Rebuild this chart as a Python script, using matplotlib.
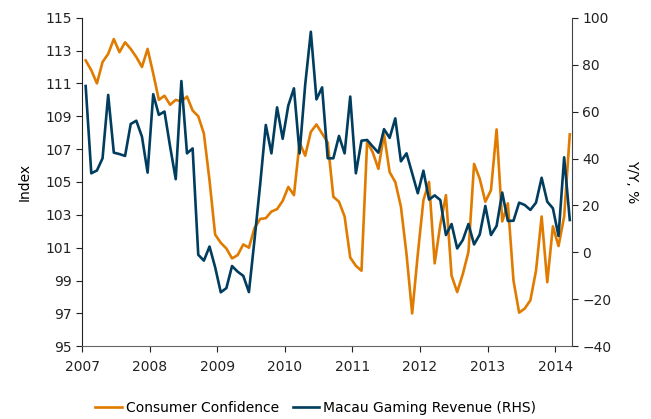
import matplotlib
matplotlib.use('Agg')
import matplotlib.pyplot as plt
import numpy as np

# monthly data, Jan 2007 - Mar 2014
start_year = 2007
consumer_conf = [
    112.4, 111.8, 111.0, 112.3, 112.8, 113.7, 112.9, 113.5, 113.1, 112.6, 112.0, 113.1,
    111.6, 110.0, 110.25, 109.7, 110.0, 109.9, 110.2, 109.35, 109.0, 107.95, 105.1, 101.8,
    101.3, 100.95, 100.35, 100.55, 101.2, 101.0, 102.2, 102.75, 102.8, 103.2, 103.35, 103.85,
    104.7, 104.2, 107.4, 106.6, 108.05, 108.5, 107.95, 107.4, 104.1, 103.8, 102.9, 100.4,
    99.9, 99.6, 107.45, 106.8, 105.8, 107.9, 105.6, 105.0, 103.5, 100.6, 97.0, 100.6,
    103.9, 105.0, 100.05, 102.4, 104.2, 99.3, 98.3, 99.4, 100.75, 106.1, 105.2, 103.8,
    104.5, 108.2, 102.6, 103.7, 99.0, 97.05, 97.3, 97.8, 99.6, 102.9, 98.9, 102.3,
    101.1, 102.9, 107.9,
]
macau_rev = [
    70.9, 33.7, 34.9, 40.1, 67.1, 42.5, 41.9, 41.1, 54.7, 56.1, 49.3, 34.0,
    67.4, 58.6, 60.0, 45.1, 31.2, 73.0, 42.2, 44.3, -1.0, -3.5, 2.5, -6.3,
    -17.0, -15.2, -5.8, -8.2, -10.0, -16.9, 5.5, 29.0, 54.3, 42.2, 61.8, 48.4,
    62.6, 69.9, 42.2, 71.5, 94.0, 65.2, 70.3, 40.1, 40.1, 49.6, 42.2, 66.4,
    33.7, 47.6, 47.9, 45.1, 42.5, 52.5, 48.8, 57.1, 38.8, 42.2, 33.7, 25.2,
    34.8, 22.5, 24.3, 22.3, 7.4, 12.1, 1.7, 5.3, 12.1, 3.4, 7.6, 19.8,
    7.4, 11.3, 25.5, 13.4, 13.5, 21.2, 20.2, 18.1, 21.2, 31.8, 21.6, 18.8,
    7.0, 40.5, 13.8,
]
years = np.arange(start_year, 2015)

x = start_year + (np.arange(len(consumer_conf)) + 0.6) / 12

orange = '#E07B00'
navy = '#003D5E'

plt.rcParams['font.family'] = 'DejaVu Sans'
plt.rcParams['font.size'] = 10

fig = plt.figure(figsize=(6.51, 4.19), dpi=100)
ax = fig.add_axes([0.1264, 0.1735, 0.7523, 0.7843])
ax2 = ax.twinx()

l1, = ax.plot(x, consumer_conf, color=orange, linewidth=1.9, label='Consumer Confidence')
l2, = ax2.plot(x, macau_rev, color=navy, linewidth=1.9, label='Macau Gaming Revenue (RHS)')

ax.set_xlim(2007, 2014.25)
ax.set_ylim(95, 115)
ax.set_yticks(np.arange(95, 116, 2))
ax2.set_ylim(-40, 100)
ax2.set_yticks(np.arange(-40, 101, 20))
ax.set_xticks(years)
ax.set_xticklabels([str(y) for y in years])

for a in (ax, ax2):
    a.spines['top'].set_visible(False)
    a.tick_params(direction='out', length=4, width=0.8, colors='#222222', labelsize=10)
ax2.spines['left'].set_visible(False)
ax.spines['right'].set_visible(False)
ax.spines['left'].set_color('#222222')
ax.spines['bottom'].set_color('#666666')
ax2.spines['right'].set_color('#444444')
ax2.spines['bottom'].set_visible(False)
ax.tick_params(axis='x', pad=6)

ax.set_ylabel('Index', fontsize=10, labelpad=10)
ax2.set_ylabel('Y/Y, %', fontsize=10, rotation=270, labelpad=20)

fig.legend(handles=[l1, l2], loc='center', bbox_to_anchor=(0.485, 0.027), ncol=2,
           frameon=False, fontsize=10, handlelength=1.9, handletextpad=0.3,
           columnspacing=1.0)

fig.savefig('out.png', dpi=100)
